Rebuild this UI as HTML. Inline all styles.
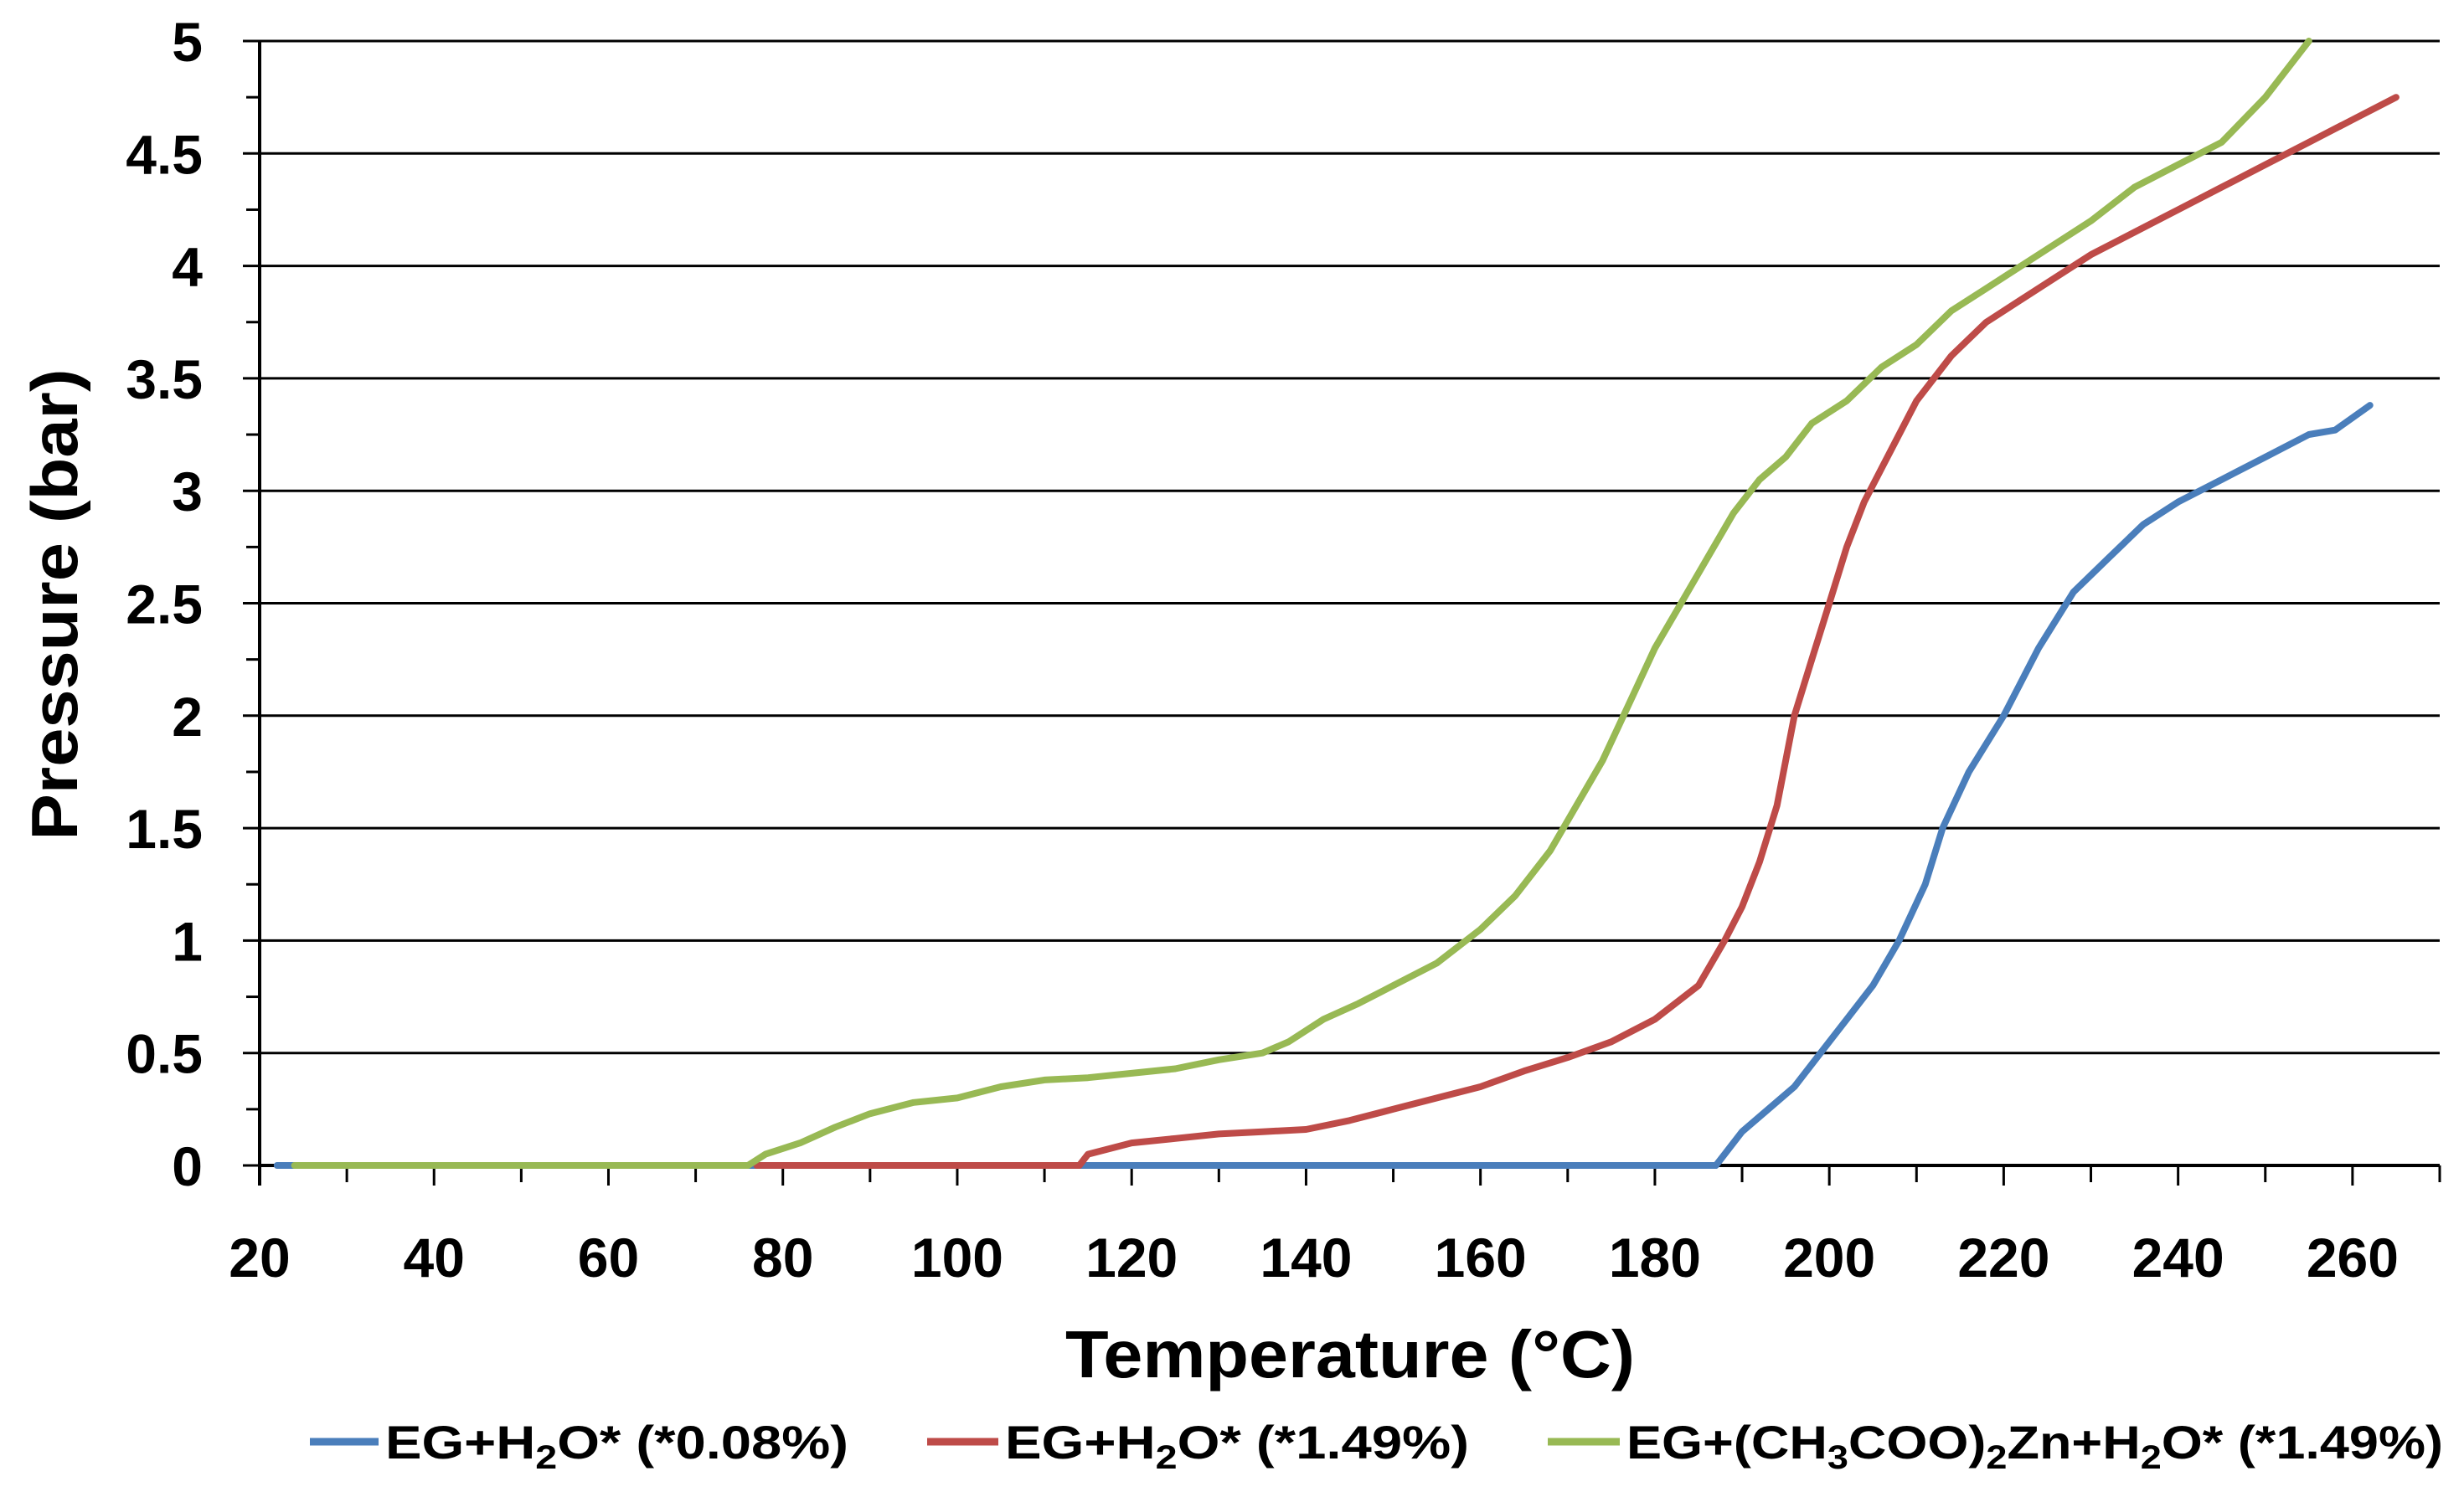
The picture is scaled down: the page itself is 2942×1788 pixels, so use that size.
<!DOCTYPE html>
<html><head><meta charset="utf-8"><style>
body{margin:0;background:#fff}
svg{display:block;font-family:"Liberation Sans",sans-serif}
</style></head><body>
<svg id="chart" width="2942" height="1788">
<g id="grid"></g>
<g id="axes"></g>
<g id="series"></g>
<text x="1612" y="1645" text-anchor="middle" font-size="80" font-weight="bold" textLength="680" lengthAdjust="spacingAndGlyphs">Temperature (°C)</text>
<text transform="translate(92,722) rotate(-90)" text-anchor="middle" font-size="78" font-weight="bold" textLength="563" lengthAdjust="spacingAndGlyphs">Pressure (bar)</text>
<g font-size="56" font-weight="bold">
<g><line x1="370" y1="1722" x2="452" y2="1722" stroke="#4a7ebb" stroke-width="9"/><text x="460" y="1742" textLength="553" lengthAdjust="spacingAndGlyphs">EG+H<tspan font-size="40" dy="12">2</tspan><tspan dy="-12">O* (*0.08%)</tspan></text></g>
<g><line x1="1107" y1="1722" x2="1192" y2="1722" stroke="#be4b48" stroke-width="9"/><text x="1200" y="1742" textLength="554" lengthAdjust="spacingAndGlyphs">EG+H<tspan font-size="40" dy="12">2</tspan><tspan dy="-12">O* (*1.49%)</tspan></text></g>
<g><line x1="1848" y1="1722" x2="1934" y2="1722" stroke="#98b954" stroke-width="9"/><text x="1942" y="1742" textLength="975" lengthAdjust="spacingAndGlyphs">EG+(CH<tspan font-size="40" dy="12">3</tspan><tspan dy="-12">COO)</tspan><tspan font-size="40" dy="12">2</tspan><tspan dy="-12">Zn+H</tspan><tspan font-size="40" dy="12">2</tspan><tspan dy="-12">O* (*1.49%)</tspan></text></g>
</g>
</svg>
<script>
const xTicks=[20,40,60,80,100,120,140,160,180,200,220,240,260];
const yTicks=[0,0.5,1,1.5,2,2.5,3,3.5,4,4.5,5];
const yTickLabels=["0","0.5","1","1.5","2","2.5","3","3.5","4","4.5","5"];
const blueT=[22,60,100,140,187,188,190,193,196,199,202,205,208,211,213,216,220,224,228,232,236,240,245,250,255,258,262];
const blueP=[0,0,0,0,0,0.05,0.15,0.25,0.35,0.5,0.65,0.8,1.0,1.25,1.5,1.75,2.0,2.3,2.55,2.7,2.85,2.95,3.05,3.15,3.25,3.27,3.38];
const redT=[77,114,115,120,125,130,135,140,145,150,155,160,165,170,175,180,185,188,190,192,194,196,198,200,202,204,206,208,210,214,218,222,226,230,235,240,245,250,255,260,265];
const redP=[0,0,0.05,0.1,0.12,0.14,0.15,0.16,0.2,0.25,0.3,0.35,0.42,0.48,0.55,0.65,0.8,1.0,1.15,1.35,1.6,2.0,2.25,2.5,2.75,2.95,3.1,3.25,3.4,3.6,3.75,3.85,3.95,4.05,4.15,4.25,4.35,4.45,4.55,4.65,4.75];
const greenT=[24,76,78,82,86,90,95,100,105,110,115,120,125,130,135,138,142,146,150,155,160,164,168,171,174,177,180,183,186,189,192,195,198,202,206,210,214,218,222,226,230,235,240,245,250,254,255];
const greenP=[0,0,0.05,0.1,0.17,0.23,0.28,0.3,0.35,0.38,0.39,0.41,0.43,0.47,0.5,0.55,0.65,0.72,0.8,0.9,1.05,1.2,1.4,1.6,1.8,2.05,2.3,2.5,2.7,2.9,3.05,3.15,3.3,3.4,3.55,3.65,3.8,3.9,4.0,4.1,4.2,4.35,4.45,4.55,4.75,4.95,5.0];
const NS="http://www.w3.org/2000/svg";
const X0=310,X1=2913,Y0=1392,Y1=49;
const xs=t=>X0+(t-20)/(270-20)*(X1-X0);
const ys=p=>Y0-(p/5)*(Y0-Y1);
function mk(tag,attrs,parent){const e=document.createElementNS(NS,tag);for(const k in attrs)e.setAttribute(k,attrs[k]);parent.appendChild(e);return e;}
const grid=document.getElementById('grid'),axes=document.getElementById('axes'),series=document.getElementById('series');
yTicks.forEach((v,i)=>{
 const l=mk('line',{x1:X0-20,x2:X1,y1:ys(v),y2:ys(v),stroke:'#000','stroke-width':3},grid);
 
 
 const t=mk('text',{x:242,y:ys(v)+24,'text-anchor':'end','font-size':66,'font-weight':'bold'},axes);
 t.textContent=yTickLabels[i];
 
 
 if(i<yTicks.length-1){const m=mk('line',{x1:X0-16,x2:X0,y1:ys(v+0.25),y2:ys(v+0.25),stroke:'#000','stroke-width':3},axes);
 
 }
});
for(let t=20;t<=270;t+=10){const k=mk('line',{x1:xs(t),x2:xs(t),y1:Y0,y2:Y0+(t%20===0?24:20),stroke:'#000','stroke-width':3},axes);
 
 }
xTicks.forEach(v=>{const t=mk('text',{x:xs(v),y:1525,'text-anchor':'middle','font-size':66,'font-weight':'bold'},axes);
 t.textContent=v;
 
 });
const ya=mk('line',{x1:X0,x2:X0,y1:Y1,y2:Y0+24,stroke:'#000','stroke-width':4},axes);


const xa=mk('line',{x1:X0,x2:X1,y1:Y0,y2:Y0,stroke:'#000','stroke-width':4},axes);


function draw(T,P,color,name){
 const d=T.map((t,i)=>(i?'L':'M')+xs(t).toFixed(1)+','+ys(P[i]).toFixed(1)).join(' ');
 const p=mk('path',{d:d,fill:'none',stroke:color,'stroke-width':8,'stroke-linejoin':'round','stroke-linecap':'round'},series);
 
 
}
draw(blueT,blueP,'#4a7ebb','series-eg-h2o-0.08');
draw(redT,redP,'#be4b48','series-eg-h2o-1.49');
draw(greenT,greenP,'#98b954','series-eg-zn-acetate-h2o-1.49');
</script>
</body></html>
